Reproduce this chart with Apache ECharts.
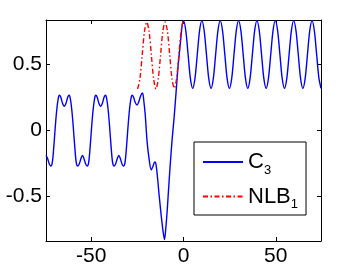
<!DOCTYPE html>
<html>
<head>
<meta charset="utf-8">
<script src="https://cdn.jsdelivr.net/npm/echarts@6/dist/echarts.min.js"></script>
<style>
html,body{margin:0;padding:0;background:#fff;}
#chart{width:355px;height:271px;}
</style>
</head>
<body>
<div id="chart"></div>
<script>
const FONT = 'Liberation Sans, Arial, sans-serif';

const xTicks = [-50, 0, 50];
const yTicks = [-0.5, 0, 0.5];
const yTickLabels = ['-0.5', '0', '0.5'];

const c3X = [
  -74.5, -73.6, -72.7, -71.9, -71.1, -70.3, -69.5, -68.7, -67.9, -67.3, -66.5, -65.6,
  -64.6, -63.6, -62.7, -61.9, -61.3, -60.5, -59.7, -58.9, -58.1, -57.3, -56.5, -55.6,
  -54.75, -53.9, -53.0, -52.2, -51.4, -50.6, -49.8, -49.0, -48.2, -47.6, -46.8, -45.9,
  -44.9, -43.9, -43.0, -42.2, -41.6, -40.8, -40.0, -39.2, -38.4, -37.6, -36.8, -35.9,
  -35.05, -34.2, -33.3, -32.5, -31.7, -30.9, -30.1, -29.3, -28.5, -27.9, -27.1, -26.2,
  -25.2, -24.2, -23.2, -22.2, -21.5, -20.7, -19.7, -18.6, -17.5, -16.6, -15.6, -15.0,
  -14.2, -13.2, -12.1, -11.0, -10.3, -9.6, -8.8, -8.3, -7.2, -6.1, -5.0, -4.0,
  -2.9, -1.8, -0.8,
  0, 1.24, 2.49, 3.73, 4.98, 6.22, 7.46, 8.71,
  9.95, 11.19, 12.44, 13.68, 14.93, 16.17, 17.41, 18.66,
  19.90, 21.14, 22.39, 23.63, 24.88, 26.12, 27.36, 28.61,
  29.85, 31.09, 32.34, 33.58, 34.83, 36.07, 37.31, 38.56,
  39.80, 41.04, 42.29, 43.53, 44.78, 46.02, 47.26, 48.51,
  49.75, 50.99, 52.24, 53.48, 54.73, 55.97, 57.21, 58.46,
  59.70, 60.94, 62.19, 63.43, 64.68, 65.92, 67.16, 68.41,
  69.65, 70.89, 72.14, 73.38, 74.5
];
const c3Y = [
  -0.19, -0.215, -0.255, -0.27, -0.245, -0.13, 0.02, 0.15, 0.235, 0.263, 0.25, 0.205,
  0.18, 0.205, 0.25, 0.263, 0.235, 0.15, 0.02, -0.13, -0.245, -0.27, -0.255, -0.215,
  -0.19, -0.215, -0.255, -0.27, -0.245, -0.13, 0.02, 0.15, 0.235, 0.263, 0.25, 0.205,
  0.18, 0.205, 0.25, 0.263, 0.235, 0.15, 0.02, -0.13, -0.245, -0.27, -0.255, -0.215,
  -0.19, -0.215, -0.255, -0.27, -0.245, -0.13, 0.02, 0.15, 0.235, 0.263, 0.25, 0.21,
  0.19, 0.215, 0.26, 0.28, 0.22, 0.11, -0.09, -0.22, -0.30, -0.275, -0.24, -0.25,
  -0.34, -0.49, -0.64, -0.77, -0.825, -0.74, -0.6, -0.49, -0.26, -0.06, 0.11, 0.29,
  0.49, 0.64, 0.78,
  0.825, 0.75, 0.57, 0.39, 0.315, 0.39, 0.57, 0.75,
  0.825, 0.75, 0.57, 0.39, 0.315, 0.39, 0.57, 0.75,
  0.825, 0.75, 0.57, 0.39, 0.315, 0.39, 0.57, 0.75,
  0.825, 0.75, 0.57, 0.39, 0.315, 0.39, 0.57, 0.75,
  0.825, 0.75, 0.57, 0.39, 0.315, 0.39, 0.57, 0.75,
  0.825, 0.75, 0.57, 0.39, 0.315, 0.39, 0.57, 0.75,
  0.825, 0.75, 0.57, 0.39, 0.315, 0.39, 0.57, 0.75,
  0.825, 0.75, 0.57, 0.39, 0.315
];

const nlbX = [
  -24.88, -23.63, -22.39, -21.14, -19.90, -18.66, -17.41, -16.17,
  -14.93, -13.68, -12.44, -11.19, -9.95, -8.71, -7.46, -6.22,
  -4.98, -3.73, -2.49, -1.24, 0, 0.6
];
const nlbY = [
  0.31, 0.385, 0.565, 0.745, 0.815, 0.745, 0.565, 0.385,
  0.31, 0.385, 0.565, 0.745, 0.815, 0.745, 0.565, 0.385,
  0.315, 0.39, 0.57, 0.75, 0.82, 0.81
];

const legendNames = ['C3', 'NLB1'];
const legendMain = {C3: 'C', NLB1: 'NLB'};
const legendSub = {C3: '3', NLB1: '1'};

const zip = (xs, ys) => xs.map((x, i) => [x, ys[i]]);

const chart = echarts.init(document.getElementById('chart'), null, {renderer: 'canvas'});

const axisBase = {
  type: 'value',
  axisLine: {show: true, onZero: false, lineStyle: {color: '#000', width: 1}},
  splitLine: {show: false},
};

chart.setOption({
  animation: false,
  backgroundColor: '#fff',
  grid: {left: 46, right: 34, top: 20, bottom: 30},
  xAxis: [
    Object.assign({}, axisBase, {
      position: 'bottom', min: -74.5, max: 74.5,
      axisTick: {show: true, inside: true, length: 4, customValues: xTicks, lineStyle: {color: '#000'}},
      axisLabel: {show: true, customValues: xTicks, margin: 5, color: '#000', fontSize: 21, fontFamily: FONT,
        formatter: v => String(v)}
    }),
    Object.assign({}, axisBase, {
      position: 'top', min: -74.5, max: 74.5,
      axisTick: {show: true, inside: true, length: 4, customValues: xTicks, lineStyle: {color: '#000'}},
      axisLabel: {show: false}
    })
  ],
  yAxis: [
    Object.assign({}, axisBase, {
      position: 'left', min: -0.835, max: 0.83,
      axisTick: {show: true, inside: true, length: 4, customValues: yTicks, lineStyle: {color: '#000'}},
      axisLabel: {show: true, customValues: yTicks, margin: 4, color: '#000', fontSize: 21, fontFamily: FONT,
        formatter: v => yTickLabels[yTicks.indexOf(v)] !== undefined ? yTickLabels[yTicks.indexOf(v)] : String(v)}
    }),
    Object.assign({}, axisBase, {
      position: 'right', min: -0.835, max: 0.83,
      axisTick: {show: true, inside: true, length: 4, customValues: yTicks, lineStyle: {color: '#000'}},
      axisLabel: {show: false}
    })
  ],
  legend: {
    orient: 'vertical', left: 194, top: 142,
    backgroundColor: '#fff', borderColor: '#000', borderWidth: 1, borderRadius: 0,
    padding: [9, 8, 4, 8],
    itemWidth: 40, itemHeight: 14, itemGap: 9,
    itemStyle: {opacity: 0},
    data: legendNames,
    formatter: name => legendMain[name] + '{s|' + legendSub[name] + '}',
    textStyle: {
      fontFamily: FONT, fontSize: 22, color: '#000',
      rich: {s: {fontFamily: FONT, fontSize: 13, color: '#000', padding: [16, 0, 0, 0]}}
    }
  },
  series: [
    {
      name: 'C3', type: 'line', xAxisIndex: 0, yAxisIndex: 0,
      data: zip(c3X, c3Y), smooth: 0.3, symbol: 'none', clip: true,
      lineStyle: {color: '#0000ff', width: 1.4},
      itemStyle: {color: '#0000ff'}
    },
    {
      name: 'NLB1', type: 'line', xAxisIndex: 0, yAxisIndex: 0,
      data: zip(nlbX, nlbY), smooth: 0.3, symbol: 'none', clip: true,
      lineStyle: {color: '#ff0000', width: 1.4, type: [5, 2.5, 1.5, 2.5]},
      itemStyle: {color: '#ff0000'}
    }
  ]
});
</script>
</body>
</html>
